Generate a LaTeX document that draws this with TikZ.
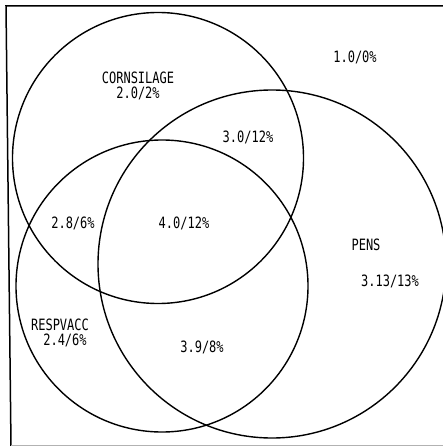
\documentclass[tikz,border=0pt]{standalone}
\usepackage{fontspec}
\newfontfamily\labfont{DejaVu Sans Mono}
\newcommand{\lbl}[1]{\scalebox{1.0}[1.3]{\labfont\fontsize{12pt}{14pt}\selectfont #1}}
\begin{document}
\begin{tikzpicture}[x=1pt,y=-1pt,
  venn/.style={circle,draw,line width=1.4pt,inner sep=0pt,outer sep=0pt},
  txt/.style={inner sep=0pt,align=center,font=\labfont\fontsize{12pt}{14pt}\selectfont}]
\useasboundingbox (0,0) rectangle (443,446);
\coordinate (tl) at (6,6);
\coordinate (tr) at (443,6);
\coordinate (bl) at (11,446);
\draw[line width=1.5pt] (tr) -- (tl) -- (bl);
\draw[line width=0.6pt,black!30] (11,445) -- (443,445);
\node[venn,minimum size=291pt] (corn) at (158,158) {};
\node[venn,minimum size=348pt] (pens) at (272,264) {};
\node[venn,minimum size=292pt] (resp) at (162,286) {};
\node[txt] (out) at (355,57) {\lbl{1.0/0\%}};
\node[txt] (cornl) at (138,78) {\lbl{CORNSILAGE}};
\node[txt] (cornv) at (138,93) {\lbl{2.0/2\%}};
\node[txt] (cp) at (248,137) {\lbl{3.0/12\%}};
\node[txt] (cr) at (73,223) {\lbl{2.8/6\%}};
\node[txt] (all) at (184,223) {\lbl{4.0/12\%}};
\node[txt] (pensl) at (366,245) {\lbl{PENS}};
\node[txt] (pensv) at (390,281) {\lbl{3.13/13\%}};
\node[txt] (respl) at (60,325) {\lbl{RESPVACC}};
\node[txt] (respv) at (65,340) {\lbl{2.4/6\%}};
\node[txt] (rp) at (202,347) {\lbl{3.9/8\%}};
\end{tikzpicture}
\end{document}
